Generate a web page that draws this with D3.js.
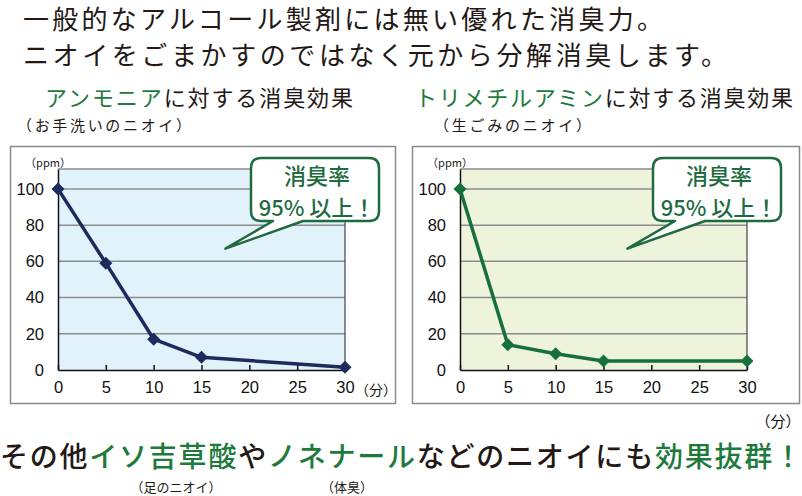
<!DOCTYPE html>
<html>
<head>
<meta charset="utf-8">
<script src="https://cdn.jsdelivr.net/npm/d3@7"></script>
<style>
    body { margin: 0; background: #fff; }
    text { font-family: "Noto Sans CJK JP", "Noto Sans", sans-serif; }
    .tick text { font-family: "Liberation Sans", Arial, sans-serif; }
</style>
</head>
<body>
<div id="chart"></div>
<script>
// --------------------------------------------------
// data

var minutes = [0, 5, 10, 15, 30];
var ammonia = [100, 59, 17, 7, 1.5];
var trimethylamine = [100, 14, 9, 5, 5];
var xTicks = [0, 5, 10, 15, 20, 25, 30];
var yTicks = [0, 20, 40, 60, 80, 100];
var bubbleLines = ["消臭率", "95% 以上！"];

var dark = "#231815";
var green = "#1d7a3c";
var bubbleGreen = "#1e6b40";

var svg = d3.select("#chart")
    .append("svg")
    .attr("width", 802)
    .attr("height", 496);

// --------------------------------------------------
// headings

svg.append("text")
    .attr("x", 23)
    .attr("y", 17)
    .attr("dominant-baseline", "central")
    .attr("font-size", "26px")
    .attr("fill", dark)
    .attr("textLength", 640)
    .attr("lengthAdjust", "spacing")
    .text("一般的なアルコール製剤には無い優れた消臭力。");

svg.append("text")
    .attr("x", 23)
    .attr("y", 53)
    .attr("dominant-baseline", "central")
    .attr("font-size", "26px")
    .attr("fill", dark)
    .attr("textLength", 704)
    .attr("lengthAdjust", "spacing")
    .text("ニオイをごまかすのではなく元から分解消臭します。");

function subtitle(x, y, width, green1, rest, note, noteX, noteW) {
    var t = svg.append("text")
        .attr("x", x)
        .attr("y", y)
        .attr("dominant-baseline", "central")
        .attr("font-size", "22px")
        .attr("textLength", width)
        .attr("lengthAdjust", "spacing");
    t.append("tspan").attr("fill", green).text(green1);
    t.append("tspan").attr("fill", dark).text(rest);

    svg.append("text")
        .attr("x", noteX)
        .attr("y", 124)
        .attr("dominant-baseline", "central")
        .attr("font-size", "15px")
        .attr("fill", dark)
        .attr("textLength", noteW)
        .attr("lengthAdjust", "spacing")
        .text(note);
}

subtitle(45, 96, 308, "アンモニア", "に対する消臭効果", "（お手洗いのニオイ）", 17, 174);
subtitle(415, 96, 378, "トリメチルアミン", "に対する消臭効果", "（生ごみのニオイ）", 434, 157);

// --------------------------------------------------
// one chart panel

function drawChart(left, values, bg, lineColor, unitAfter30) {
    var boxW = left < 400 ? 385 : 387;
    var g = svg.append("g")
        .attr("transform", "translate(" + left + ", 146)");

    // outer frame
    g.append("rect")
        .attr("x", 0.5)
        .attr("y", 0.5)
        .attr("width", boxW)
        .attr("height", 257)
        .attr("fill", "#fff")
        .attr("stroke", "#8a8a8a")
        .attr("stroke-width", 1.5);

    var plot = g.append("g")
        .attr("transform", "translate(48, 23)");
    var width = 287;
    var height = 201;

    var x = d3.scaleLinear().domain([0, 30]).range([0, width]);
    var y = d3.scaleLinear().domain([0, 111]).range([height, 0]);

    plot.append("rect")
        .attr("width", width)
        .attr("height", height)
        .attr("fill", bg);

    // grid lines
    plot.selectAll(".grid")
        .data(yTicks.slice(1).concat([111]))
        .enter()
        .append("line")
        .attr("x1", 0)
        .attr("x2", width)
        .attr("y1", function(d) { return y(d); })
        .attr("y2", function(d) { return y(d); })
        .attr("stroke", "#8c8c8c")
        .attr("stroke-width", 1.5);

    plot.append("line")
        .attr("x1", width).attr("x2", width)
        .attr("y1", 0).attr("y2", height)
        .attr("stroke", "#444")
        .attr("stroke-width", 1.2);

    // y axis
    var yAxis = plot.append("g")
        .call(d3.axisLeft(y).tickValues(yTicks).tickSize(0).tickPadding(14));
    yAxis.select(".domain").attr("stroke", "#111").attr("stroke-width", 1.5);
    yAxis.selectAll("text")
        .attr("font-size", "16.5px")
        .attr("fill", "#111");

    // x axis, ticks point inward
    var xAxis = plot.append("g")
        .attr("transform", "translate(0, " + height + ")")
        .call(d3.axisBottom(x).tickValues(xTicks).tickSizeInner(-5).tickSizeOuter(0).tickPadding(11));
    xAxis.select(".domain").attr("stroke", "#111").attr("stroke-width", 1.5);
    xAxis.selectAll("line").attr("stroke", "#111").attr("stroke-width", 1.5);
    xAxis.selectAll("text")
        .attr("font-size", "16.5px")
        .attr("fill", "#111");

    plot.append("text")
        .attr("x", -10)
        .attr("y", -7)
        .attr("text-anchor", "middle")
        .attr("dominant-baseline", "central")
        .attr("font-size", "11px")
        .attr("fill", "#222")
        .text("（ppm）");

    if (unitAfter30) {
        plot.append("text")
            .attr("x", x(30) + 31)
            .attr("y", height + 19)
            .attr("text-anchor", "middle")
            .attr("dominant-baseline", "central")
            .attr("font-size", "14px")
            .attr("fill", "#111")
            .text("（分）");
    }

    // the series
    var pts = minutes.map(function(m, i) { return [m, values[i]]; });
    var line = d3.line()
        .x(function(d) { return x(d[0]); })
        .y(function(d) { return y(d[1]); });

    plot.append("path")
        .datum(pts)
        .attr("d", line)
        .attr("fill", "none")
        .attr("stroke", lineColor)
        .attr("stroke-width", 3.5)
        .attr("stroke-linejoin", "round");

    plot.selectAll(".pt")
        .data(pts)
        .enter()
        .append("path")
        .attr("transform", function(d) {
            return "translate(" + x(d[0]) + ", " + y(d[1]) + ")";
        })
        .attr("d", "M0,-6.5L6.5,0L0,6.5L-6.5,0Z")
        .attr("fill", lineColor);

    // speech bubble, tip placed in data units
    var bx0 = 193, bx1 = 321, by0 = -11, by1 = 52, r = 10;
    var tipX = x(17.5), tipY = y(67);
    var d = "M" + (bx0 + r) + "," + by0 +
        "H" + (bx1 - r) + "Q" + bx1 + "," + by0 + " " + bx1 + "," + (by0 + r) +
        "V" + (by1 - r) + "Q" + bx1 + "," + by1 + " " + (bx1 - r) + "," + by1 +
        "H" + (bx0 + 52) + "L" + tipX + "," + tipY + "L" + (bx0 + 22) + "," + by1 +
        "H" + (bx0 + r) + "Q" + bx0 + "," + by1 + " " + bx0 + "," + (by1 - r) +
        "V" + (by0 + r) + "Q" + bx0 + "," + by0 + " " + (bx0 + r) + "," + by0 + "Z";
    plot.append("path")
        .attr("d", d)
        .attr("fill", "#fff")
        .attr("stroke", bubbleGreen)
        .attr("stroke-width", 2.5)
        .attr("stroke-linejoin", "round");

    plot.selectAll(".bub")
        .data(bubbleLines)
        .enter()
        .append("text")
        .attr("x", (bx0 + bx1) / 2 + 2)
        .attr("y", function(d, i) { return 5 + i * 32; })
        .attr("text-anchor", "middle")
        .attr("dominant-baseline", "central")
        .attr("font-size", "22px")
        .attr("font-weight", 500)
        .attr("fill", bubbleGreen)
        .text(function(d) { return d; });
}

drawChart(10, ammonia, "#e1f2fb", "#1c2a5e", true);
drawChart(412, trimethylamine, "#eef3dc", "#16703a", false);

svg.append("text")
    .attr("x", 778)
    .attr("y", 420)
    .attr("text-anchor", "middle")
    .attr("dominant-baseline", "central")
    .attr("font-size", "15px")
    .attr("fill", "#111")
    .text("（分）");

// --------------------------------------------------
// bottom line

var parts = [
    ["その他", dark], ["イソ吉草酸", green], ["や", dark],
    ["ノネナール", green], ["などのニオイにも", dark], ["効果抜群！", green]
];
var bottom = svg.append("text")
    .attr("x", 0)
    .attr("y", 455)
    .attr("dominant-baseline", "central")
    .attr("font-size", "28px")
    .attr("font-weight", 500)
    .attr("textLength", 802)
    .attr("lengthAdjust", "spacing");
bottom.selectAll("tspan")
    .data(parts)
    .enter()
    .append("tspan")
    .attr("fill", function(d) { return d[1]; })
    .text(function(d) { return d[0]; });

svg.append("text")
    .attr("x", 176)
    .attr("y", 486)
    .attr("text-anchor", "middle")
    .attr("dominant-baseline", "central")
    .attr("font-size", "13px")
    .attr("fill", dark)
    .text("（足のニオイ）");

svg.append("text")
    .attr("x", 347)
    .attr("y", 486)
    .attr("text-anchor", "middle")
    .attr("dominant-baseline", "central")
    .attr("font-size", "13px")
    .attr("fill", dark)
    .text("（体臭）");
</script>
</body>
</html>
